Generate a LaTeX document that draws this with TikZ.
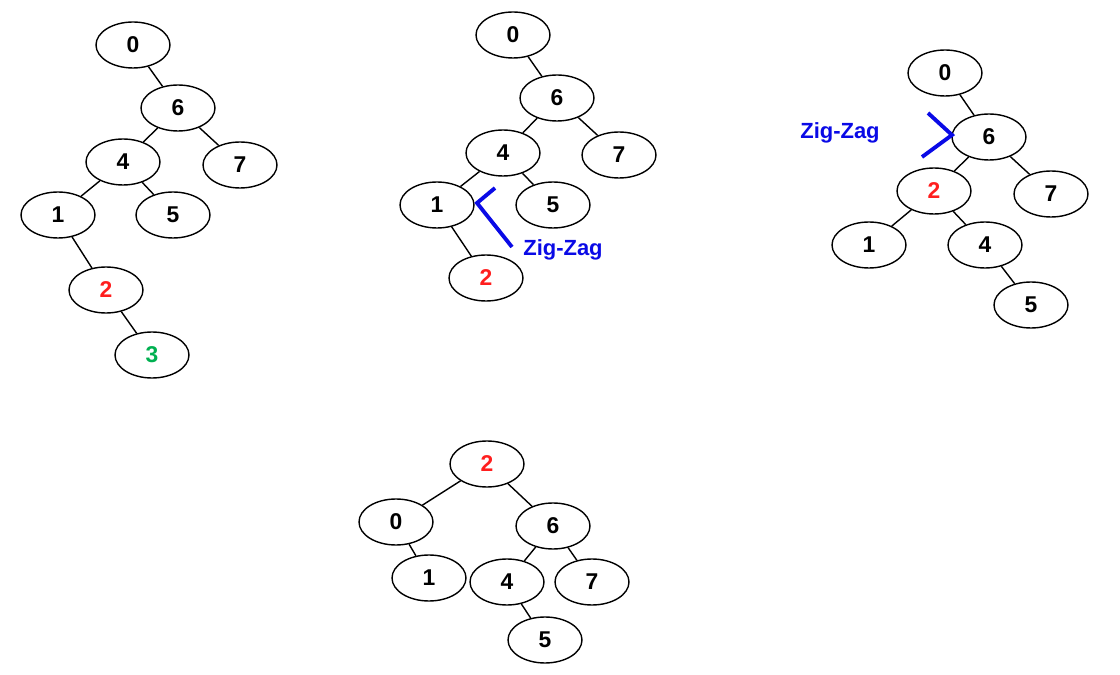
\documentclass[tikz,border=0pt]{standalone}
\usepackage{fontspec}
\setmainfont{Liberation Sans}
\usetikzlibrary{shapes.geometric}
\definecolor{zred}{RGB}{255,30,30}
\definecolor{zgreen}{RGB}{0,176,80}
\definecolor{zblue}{RGB}{10,10,230}
\begin{document}
\begin{tikzpicture}[x=0.02cm,y=-0.02cm,
  n/.style={ellipse,draw,line width=0.8pt,minimum width=1.48cm,minimum height=0.92cm,inner sep=0pt,font=\fontsize{13}{13}\selectfont\bfseries},
  e/.style={line width=0.8pt},
  zz/.style={zblue,line width=2.2pt},
  lab/.style={zblue,font=\fontsize{12.5}{13}\selectfont\bfseries}]
\useasboundingbox (0,0) rectangle (1120,675);
% tree 1
\node[n] (a0) at (133,45) {0};
\node[n] (a6) at (178,108) {6};
\node[n] (a4) at (123,162) {4};
\node[n] (a7) at (240,165) {7};
\node[n] (a1) at (58,215) {1};
\node[n] (a5) at (173,215) {5};
\node[n,text=zred] (a2) at (106,290) {2};
\node[n,text=zgreen] (a3) at (152,355) {3};
\draw[e] (a0)--(a6) (a6)--(a4) (a6)--(a7) (a4)--(a1) (a4)--(a5) (a1)--(a2) (a2)--(a3);
% tree 2
\node[n] (b0) at (513,35) {0};
\node[n] (b6) at (557,98) {6};
\node[n] (b4) at (503,153) {4};
\node[n] (b7) at (619,155) {7};
\node[n] (b1) at (437,205) {1};
\node[n] (b5) at (553,205) {5};
\node[n,text=zred] (b2) at (486,278) {2};
\draw[e] (b0)--(b6) (b6)--(b4) (b6)--(b7) (b4)--(b1) (b4)--(b5) (b1)--(b2);
\coordinate (bz1) at (495,188); \coordinate (bz2) at (477,203); \coordinate (bz3) at (512,247);
\draw[zz] (bz1)--(bz2)--(bz3);
\node[lab] (bl) at (563,250) {Zig-Zag};
% tree 3
\node[n] (c0) at (945,73) {0};
\node[n] (c6) at (989,137) {6};
\node[n,text=zred] (c2) at (934,191) {2};
\node[n] (c7) at (1051,194) {7};
\node[n] (c1) at (869,245) {1};
\node[n] (c4) at (985,245) {4};
\node[n] (c5) at (1031,305) {5};
\draw[e] (c0)--(c6) (c6)--(c2) (c6)--(c7) (c2)--(c1) (c2)--(c4) (c4)--(c5);
\coordinate (cz1) at (928,113); \coordinate (cz2) at (952,135); \coordinate (cz3) at (922,157);
\draw[zz] (cz1)--(cz2)--(cz3);
\node[lab] (cl) at (840,133) {Zig-Zag};
% tree 4
\node[n,text=zred] (d2) at (487,464) {2};
\node[n] (d0) at (396,522) {0};
\node[n] (d6) at (553,526) {6};
\node[n] (d1) at (429,578) {1};
\node[n] (d4) at (507,582) {4};
\node[n] (d7) at (592,582) {7};
\node[n] (d5) at (545,640) {5};
\draw[e] (d2)--(d0) (d2)--(d6) (d0)--(d1) (d6)--(d4) (d6)--(d7) (d4)--(d5);
\end{tikzpicture}
\end{document}
